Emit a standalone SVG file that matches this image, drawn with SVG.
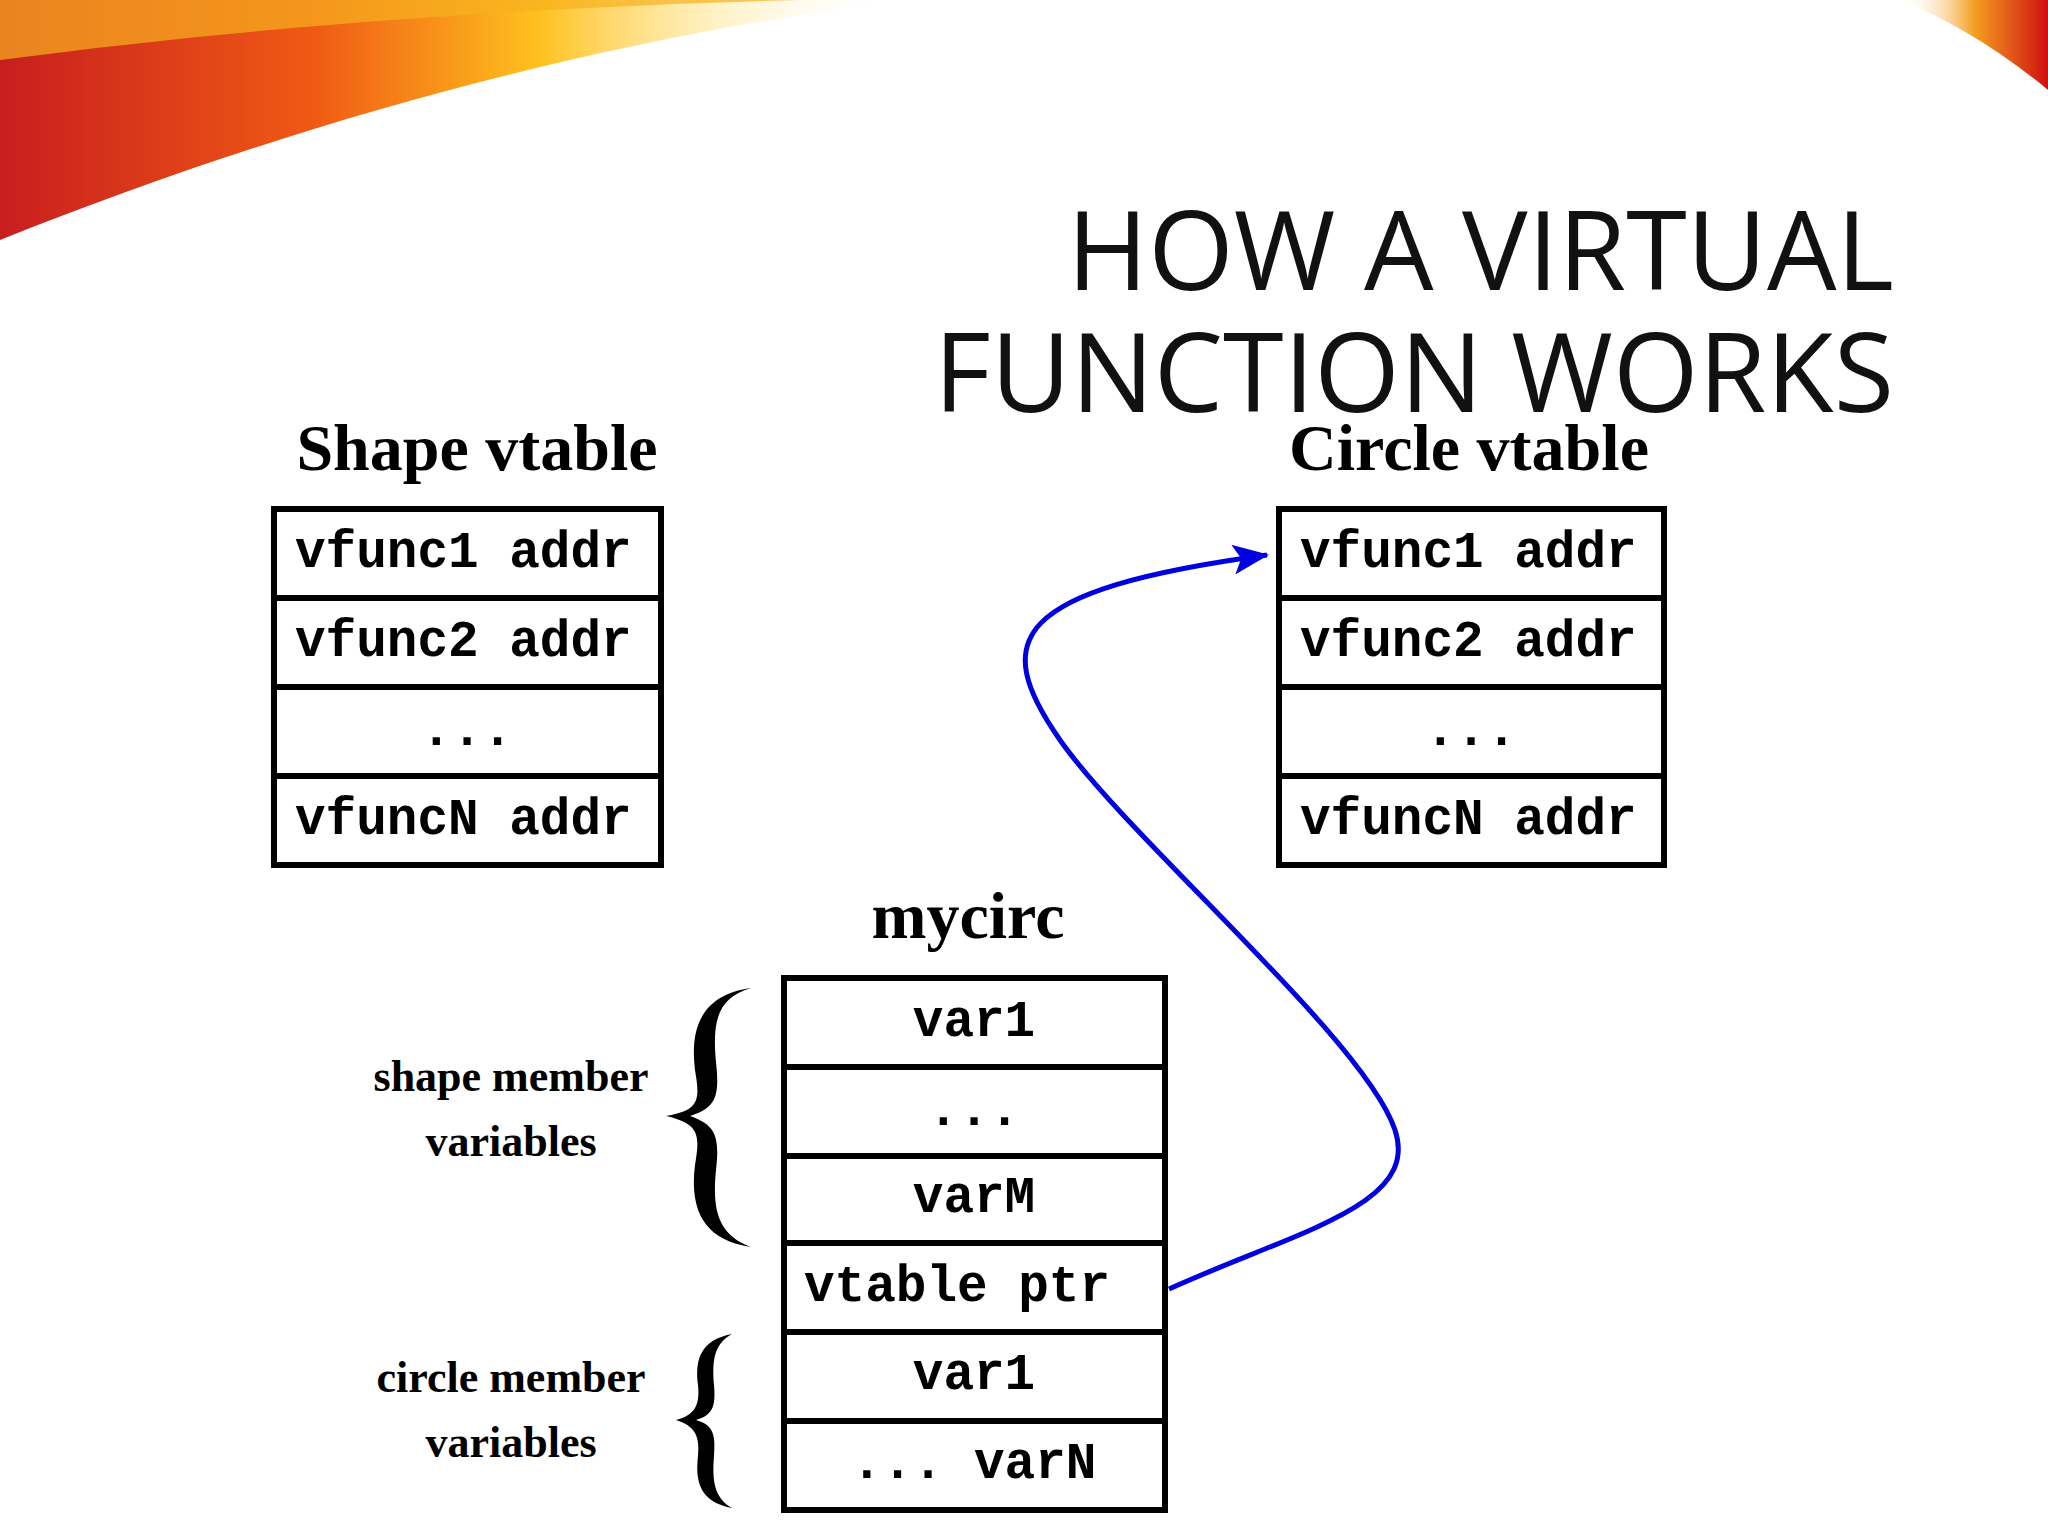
<svg xmlns="http://www.w3.org/2000/svg" width="2048" height="1536" viewBox="0 0 2048 1536">
<defs>
<linearGradient id="sw" x1="0" y1="0" x2="1" y2="0">
<stop offset="0" stop-color="#c81e1e"/><stop offset="0.35" stop-color="#f05a14"/><stop offset="0.6" stop-color="#ffc21e"/><stop offset="0.8" stop-color="#ffe9a0" stop-opacity="0.6"/><stop offset="1" stop-color="#fff" stop-opacity="0"/>
</linearGradient>
<linearGradient id="sw2" x1="0" y1="0" x2="1" y2="0">
<stop offset="0" stop-color="#fff" stop-opacity="0"/><stop offset="0.5" stop-color="#f4a020"/><stop offset="1" stop-color="#d01010"/>
</linearGradient>
<marker id="ah" markerWidth="36" markerHeight="30" refX="34" refY="15" orient="auto" markerUnits="userSpaceOnUse" viewBox="0 0 36 30">
<path d="M0,0 L36,15 L0,30 L8,15 Z" fill="#0000e0"/>
</marker>
<style>
.cell{fill:#fff;stroke:#000;stroke-width:6}
.mono{font-family:"Liberation Mono",monospace;font-weight:bold;font-size:51px;fill:#000}
.lbl{font-family:"Liberation Serif",serif;font-weight:bold;font-size:66px;text-anchor:middle}
.sm{font-family:"Liberation Serif",serif;font-weight:bold;font-size:44px;text-anchor:middle}
.title{font-family:"Open Sans","Liberation Sans",sans-serif;font-size:110px;text-anchor:end;fill:#111}
</style>
</defs>
<rect width="2048" height="1536" fill="#fff"/>
<path d="M0,0 L900,0 C600,40 300,120 0,240 Z" fill="url(#sw)"/>
<path d="M0,60 C300,20 600,5 800,0 L0,0 Z" fill="#f6b020" opacity="0.7"/>
<path d="M1900,0 L2048,0 L2048,90 C2000,50 1950,20 1900,0 Z" fill="url(#sw2)"/>
<text class="title" x="1894" y="290">HOW A VIRTUAL</text>
<text class="title" x="1894" y="412">FUNCTION WORKS</text>
<g id="shape-vtable">
<text class="lbl" x="477" y="470">Shape vtable</text>
<rect class="cell" x="274" y="509" width="387" height="89"/>
<rect class="cell" x="274" y="598" width="387" height="89"/>
<rect class="cell" x="274" y="687" width="387" height="89"/>
<rect class="cell" x="274" y="776" width="387" height="89"/>
<text class="mono" x="295" y="567">vfunc1 addr</text>
<text class="mono" x="295" y="656">vfunc2 addr</text>
<text class="mono" x="467" y="745" text-anchor="middle">...</text>
<text class="mono" x="295" y="834">vfuncN addr</text>
</g>
<g id="circle-vtable">
<text class="lbl" x="1469" y="470">Circle vtable</text>
<rect class="cell" x="1279" y="509" width="385" height="89"/>
<rect class="cell" x="1279" y="598" width="385" height="89"/>
<rect class="cell" x="1279" y="687" width="385" height="89"/>
<rect class="cell" x="1279" y="776" width="385" height="89"/>
<text class="mono" x="1300" y="567">vfunc1 addr</text>
<text class="mono" x="1300" y="656">vfunc2 addr</text>
<text class="mono" x="1471" y="745" text-anchor="middle">...</text>
<text class="mono" x="1300" y="834">vfuncN addr</text>
</g>
<g id="mycirc">
<text class="lbl" x="968" y="938">mycirc</text>
<rect class="cell" x="784" y="978" width="381" height="89"/>
<rect class="cell" x="784" y="1067" width="381" height="89"/>
<rect class="cell" x="784" y="1156" width="381" height="87"/>
<rect class="cell" x="784" y="1243" width="381" height="89"/>
<rect class="cell" x="784" y="1332" width="381" height="89"/>
<rect class="cell" x="784" y="1421" width="381" height="89"/>
<text class="mono" x="974" y="1036" text-anchor="middle">var1</text>
<text class="mono" x="974" y="1125" text-anchor="middle">...</text>
<text class="mono" x="974" y="1212" text-anchor="middle">varM</text>
<text class="mono" x="957" y="1301" text-anchor="middle">vtable ptr</text>
<text class="mono" x="974" y="1389" text-anchor="middle">var1</text>
<text class="mono" x="974" y="1478" text-anchor="middle">... varN</text>
</g>
<g id="shape-members">
<path d="M751,988 C700,995 690,1030 695,1070 C700,1100 700,1110 666,1116 C700,1124 700,1135 695,1165 C690,1205 700,1240 751,1247 C718,1235 712,1210 716,1170 C720,1135 715,1125 690,1116 C715,1108 720,1098 716,1062 C712,1020 718,998 751,988 Z" fill="#000"/>
<text class="sm" x="511" y="1091">shape member</text>
<text class="sm" x="511" y="1156">variables</text>
</g>
<g id="circle-members">
<path d="M732,1334 C700,1340 695,1360 698,1385 C700,1405 695,1415 676,1420 C695,1426 700,1436 698,1456 C695,1482 700,1502 732,1508 C714,1498 712,1480 714,1456 C716,1432 712,1425 696,1420 C712,1415 716,1408 714,1385 C712,1360 714,1344 732,1334 Z" fill="#000"/>
<text class="sm" x="511" y="1392">circle member</text>
<text class="sm" x="511" y="1457">variables</text>
</g>
<g id="connectors">
<path d="M1169,1289 C1300,1230 1420,1205 1395,1130 C1365,1040 1130,840 1060,740 C990,640 1010,590 1267,555" fill="none" stroke="#0000e0" stroke-width="5" marker-end="url(#ah)"/>
</g>
</svg>
